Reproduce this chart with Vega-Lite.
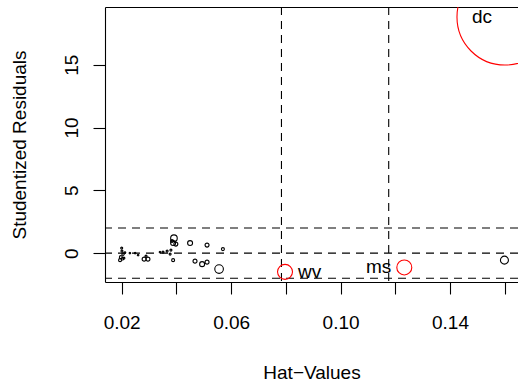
{
  "$schema": "https://vega.github.io/schema/vega-lite/v6.json",
  "width": 413,
  "height": 275,
  "autosize": {"type": "none"},
  "padding": {"left": 105, "top": 7, "right": 0, "bottom": 99},
  "background": "white",
  "config": {
    "view": {"stroke": null},
    "font": "Liberation Sans",
    "axis": {
      "grid": false,
      "domainColor": "black",
      "domainWidth": 1.1,
      "tickColor": "black",
      "tickWidth": 1.1,
      "tickSize": 12,
      "labelColor": "black",
      "labelFont": "Liberation Sans",
      "labelFontSize": 19,
      "titleColor": "black",
      "titleFont": "Liberation Sans",
      "titleFontSize": 19,
      "titleFontWeight": "normal"
    }
  },
  "datasets": {
    "pts": [
      {"hat": 0.0200, "res": 0.40, "cook": 0.0013, "grp": "normal", "label": "", "side": ""},
      {"hat": 0.0201, "res": 0.16, "cook": 0.0013, "grp": "normal", "label": "", "side": ""},
      {"hat": 0.0205, "res": -0.08, "cook": 0.0019, "grp": "normal", "label": "", "side": ""},
      {"hat": 0.0197, "res": -0.32, "cook": 0.0029, "grp": "normal", "label": "", "side": ""},
      {"hat": 0.0194, "res": -0.56, "cook": 0.0029, "grp": "normal", "label": "", "side": ""},
      {"hat": 0.0208, "res": -0.40, "cook": 0.0013, "grp": "normal", "label": "", "side": ""},
      {"hat": 0.0212, "res": 0.05, "cook": 0.0008, "grp": "normal", "label": "", "side": ""},
      {"hat": 0.0203, "res": -0.45, "cook": 0.0019, "grp": "normal", "label": "", "side": ""},
      {"hat": 0.0230, "res": 0.00, "cook": 0.0008, "grp": "normal", "label": "", "side": ""},
      {"hat": 0.0249, "res": 0.00, "cook": 0.0008, "grp": "normal", "label": "", "side": ""},
      {"hat": 0.0260, "res": -0.16, "cook": 0.0008, "grp": "normal", "label": "", "side": ""},
      {"hat": 0.0282, "res": -0.48, "cook": 0.0052, "grp": "normal", "label": "", "side": ""},
      {"hat": 0.0296, "res": -0.48, "cook": 0.0052, "grp": "normal", "label": "", "side": ""},
      {"hat": 0.0289, "res": -0.24, "cook": 0.0013, "grp": "normal", "label": "", "side": ""},
      {"hat": 0.0340, "res": 0.08, "cook": 0.0008, "grp": "normal", "label": "", "side": ""},
      {"hat": 0.0351, "res": 0.08, "cook": 0.0013, "grp": "normal", "label": "", "side": ""},
      {"hat": 0.0366, "res": 0.16, "cook": 0.0013, "grp": "normal", "label": "", "side": ""},
      {"hat": 0.0380, "res": 0.24, "cook": 0.0013, "grp": "normal", "label": "", "side": ""},
      {"hat": 0.0377, "res": -0.08, "cook": 0.0013, "grp": "normal", "label": "", "side": ""},
      {"hat": 0.0388, "res": -0.56, "cook": 0.0029, "grp": "normal", "label": "", "side": ""},
      {"hat": 0.0391, "res": 1.19, "cook": 0.0142, "grp": "normal", "label": "", "side": ""},
      {"hat": 0.0388, "res": 0.80, "cook": 0.0081, "grp": "normal", "label": "", "side": ""},
      {"hat": 0.0398, "res": 0.72, "cook": 0.0052, "grp": "normal", "label": "", "side": ""},
      {"hat": 0.0384, "res": 0.96, "cook": 0.0029, "grp": "normal", "label": "", "side": ""},
      {"hat": 0.0450, "res": 0.80, "cook": 0.0081, "grp": "normal", "label": "", "side": ""},
      {"hat": 0.0468, "res": -0.64, "cook": 0.0052, "grp": "normal", "label": "", "side": ""},
      {"hat": 0.0494, "res": -0.88, "cook": 0.0081, "grp": "normal", "label": "", "side": ""},
      {"hat": 0.0512, "res": -0.72, "cook": 0.0052, "grp": "normal", "label": "", "side": ""},
      {"hat": 0.0512, "res": 0.64, "cook": 0.0052, "grp": "normal", "label": "", "side": ""},
      {"hat": 0.0556, "res": -1.27, "cook": 0.0241, "grp": "normal", "label": "", "side": ""},
      {"hat": 0.0570, "res": 0.32, "cook": 0.0029, "grp": "normal", "label": "", "side": ""},
      {"hat": 0.0797, "res": -1.49, "cook": 0.0732, "grp": "outlier", "label": "wv", "side": "right"},
      {"hat": 0.1233, "res": -1.14, "cook": 0.0732, "grp": "outlier", "label": "ms", "side": "left"},
      {"hat": 0.1599, "res": -0.56, "cook": 0.0208, "grp": "normal", "label": "", "side": ""},
      {"hat": 0.1601, "res": 18.8, "cook": 3.0, "grp": "outlier", "label": "dc", "side": "left"}
    ],
    "hlines": [{"h": -2}, {"h": 0}, {"h": 2}],
    "vlines": [{"v": 0.0784}, {"v": 0.1176}]
  },
  "layer": [
    {
      "data": {"name": "hlines"},
      "mark": {"type": "rule", "color": "black", "strokeWidth": 1.1, "strokeDash": [8, 6]},
      "encoding": {
        "y": {
          "field": "h", "type": "quantitative",
          "scale": {"domain": [-2.3, 19.6], "nice": false, "zero": false},
          "axis": {"values": [0, 5, 10, 15], "labelAngle": -90, "labelAlign": "center", "labelBaseline": "alphabetic", "labelPadding": 16, "title": "Studentized Residuals", "titleX": -80, "titleBaseline": "alphabetic"}
        }
      }
    },
    {
      "data": {"name": "vlines"},
      "mark": {"type": "rule", "color": "black", "strokeWidth": 1.1, "strokeDash": [8, 6]},
      "encoding": {
        "x": {
          "field": "v", "type": "quantitative",
          "scale": {"domain": [0.0139, 0.16486], "nice": false, "zero": false},
          "axis": {"orient": "top", "ticks": false, "labels": false, "title": null, "domain": true}
        }
      }
    },
    {
      "data": {"name": "pts"},
      "mark": {"type": "point", "shape": "circle", "filled": false, "strokeWidth": 1.1, "opacity": 1, "clip": true},
      "encoding": {
        "x": {
          "field": "hat", "type": "quantitative",
          "axis": {"orient": "bottom", "values": [0.02, 0.04, 0.06, 0.08, 0.10, 0.12, 0.14, 0.16], "format": ".2f", "labelExpr": "round(datum.value*100) % 4 == 2 ? datum.label : ''", "labelBaseline": "alphabetic", "labelPadding": 34, "title": "Hat−Values", "titleY": 96, "titleBaseline": "alphabetic"}
        },
        "y": {"field": "res", "type": "quantitative"},
        "size": {"field": "cook", "type": "quantitative", "scale": {"domain": [0, 3], "range": [0, 9216], "zero": true}, "legend": null},
        "color": {"field": "grp", "type": "nominal", "scale": {"domain": ["normal", "outlier"], "range": ["black", "#FF0000"]}, "legend": null}
      }
    },
    {
      "data": {"name": "pts"},
      "transform": [{"filter": "datum.side == 'right'"}],
      "mark": {"type": "text", "align": "left", "baseline": "middle", "dx": 13, "fontSize": 19, "font": "Liberation Sans", "color": "black"},
      "encoding": {
        "x": {"field": "hat", "type": "quantitative", "axis": null},
        "y": {"field": "res", "type": "quantitative"},
        "text": {"field": "label"}
      }
    },
    {
      "data": {"name": "pts"},
      "transform": [{"filter": "datum.side == 'left'"}],
      "mark": {"type": "text", "align": "right", "baseline": "middle", "dx": -13, "fontSize": 19, "font": "Liberation Sans", "color": "black"},
      "encoding": {
        "x": {"field": "hat", "type": "quantitative", "axis": null},
        "y": {"field": "res", "type": "quantitative"},
        "text": {"field": "label"}
      }
    }
  ],
  "resolve": {"axis": {"x": "independent"}}
}
